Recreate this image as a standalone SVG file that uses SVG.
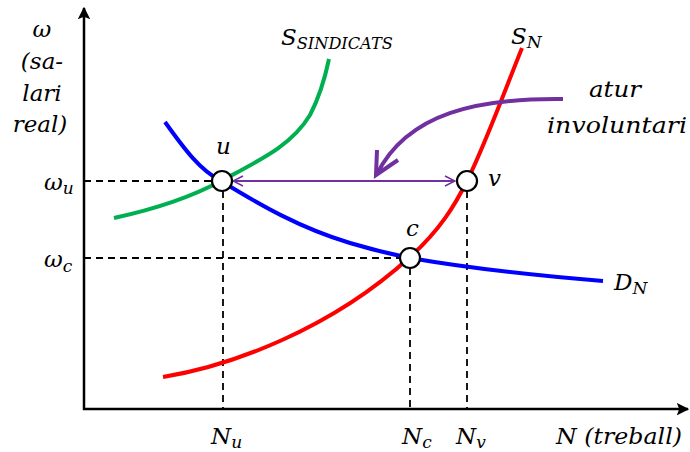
<svg xmlns="http://www.w3.org/2000/svg" width="690" height="452" viewBox="0 0 690 452">
<style>
text{font-family:"DejaVu Serif","Liberation Serif",serif;font-style:italic;fill:#000;font-size:23px}
.sub{font-size:17px}
.curve{fill:none;stroke-width:4;stroke-linecap:butt}
.dash{stroke:#000;stroke-width:1.8;stroke-dasharray:7 5;fill:none}
.axis{stroke:#000;stroke-width:2.5;fill:none}
.pt{fill:#fff;stroke:#000;stroke-width:2.2}
</style>
<defs>
<marker id="ax" viewBox="0 0 10 10" refX="9" refY="5" markerWidth="5" markerHeight="6" orient="auto" markerUnits="strokeWidth">
<path d="M0,0 L10,5 L0,10 L2,5 Z" fill="#000"/>
</marker>
<marker id="chev" viewBox="0 0 12 12" refX="11" refY="6" markerWidth="6" markerHeight="6" orient="auto-start-reverse" markerUnits="strokeWidth">
<path d="M1,1 L11,6 L1,11" fill="none" stroke="#7030A0" stroke-width="1.5"/>
</marker>
</defs>
<g id="axes">
<line class="axis" x1="84" y1="410" x2="84" y2="8" marker-end="url(#ax)"/>
<line class="axis" x1="83" y1="409" x2="688" y2="409" marker-end="url(#ax)"/>
</g>
<g id="guides">
<line class="dash" x1="84" y1="181" x2="212" y2="181"/>
<line class="dash" x1="84" y1="258" x2="400" y2="258"/>
<line class="dash" x1="223" y1="191" x2="223" y2="408"/>
<line class="dash" x1="410" y1="268" x2="410" y2="408"/>
<line class="dash" x1="467" y1="191" x2="467" y2="408"/>
</g>
<g id="connectors">
<path id="S_N" class="curve" stroke="#FF0000" d="M163,377 C230,366 330,330 410,257 C440,230 455,205 467,181 C485,145 505,90 522,48"/>
<path id="D_N" class="curve" stroke="#0000FF" d="M165,122 C185,150 200,170 221,181 C260,205 300,228 350,243 C380,252 400,256 410,258 C480,270 540,276 603,281"/>
<path id="S_SIND" class="curve" stroke="#00B050" d="M114,218 C160,208 195,195 221,181 C262,159 292,145 310,115 C320,96 325,78 329,59"/>
<path id="atur-arrow" fill="none" stroke="#7030A0" stroke-width="4" d="M563,99 C480,98 408,112 377,174"/>
<path fill="none" stroke="#7030A0" stroke-width="4" stroke-linejoin="miter" d="M377,150 L376,175 L398,160"/>
<line stroke="#7030A0" stroke-width="2" x1="233" y1="181" x2="455" y2="181" marker-start="url(#chev)" marker-end="url(#chev)"/>
</g>
<g id="node-u"><circle class="pt" cx="222" cy="181" r="10"/><text x="216" y="154">u</text></g>
<g id="node-c"><circle class="pt" cx="410" cy="258" r="10"/><text x="406" y="236">c</text></g>
<g id="node-v"><circle class="pt" cx="467" cy="181" r="10"/><text x="488" y="186">v</text></g>
<g id="labels">
<text x="42" y="37" text-anchor="middle" font-size="26">ω</text>
<text x="42" y="69" text-anchor="middle" font-size="26">(sa-</text>
<text x="42" y="101" text-anchor="middle" font-size="26">lari</text>
<text x="40" y="132" text-anchor="middle" font-size="26">real)</text>
<text x="44" y="190">ω<tspan class="sub" dy="4">u</tspan></text>
<text x="44" y="267">ω<tspan class="sub" dy="5">c</tspan></text>
<text x="281" y="45">S<tspan class="sub" dy="4" textLength="96" lengthAdjust="spacingAndGlyphs">SINDICATS</tspan></text>
<text x="511" y="44">S<tspan class="sub" dy="4">N</tspan></text>
<text x="614" y="290">D<tspan class="sub" dy="4">N</tspan></text>
<text x="615" y="97" text-anchor="middle" textLength="52" lengthAdjust="spacingAndGlyphs">atur</text>
<text x="617" y="133" text-anchor="middle" textLength="140" lengthAdjust="spacingAndGlyphs">involuntari</text>
<text x="211" y="444">N<tspan class="sub" dy="4">u</tspan></text>
<text x="402" y="444">N<tspan class="sub" dy="4">c</tspan></text>
<text x="456" y="444">N<tspan class="sub" dy="4">v</tspan></text>
<text x="556" y="444" textLength="126" lengthAdjust="spacingAndGlyphs">N (treball)</text>
</g>
</svg>
